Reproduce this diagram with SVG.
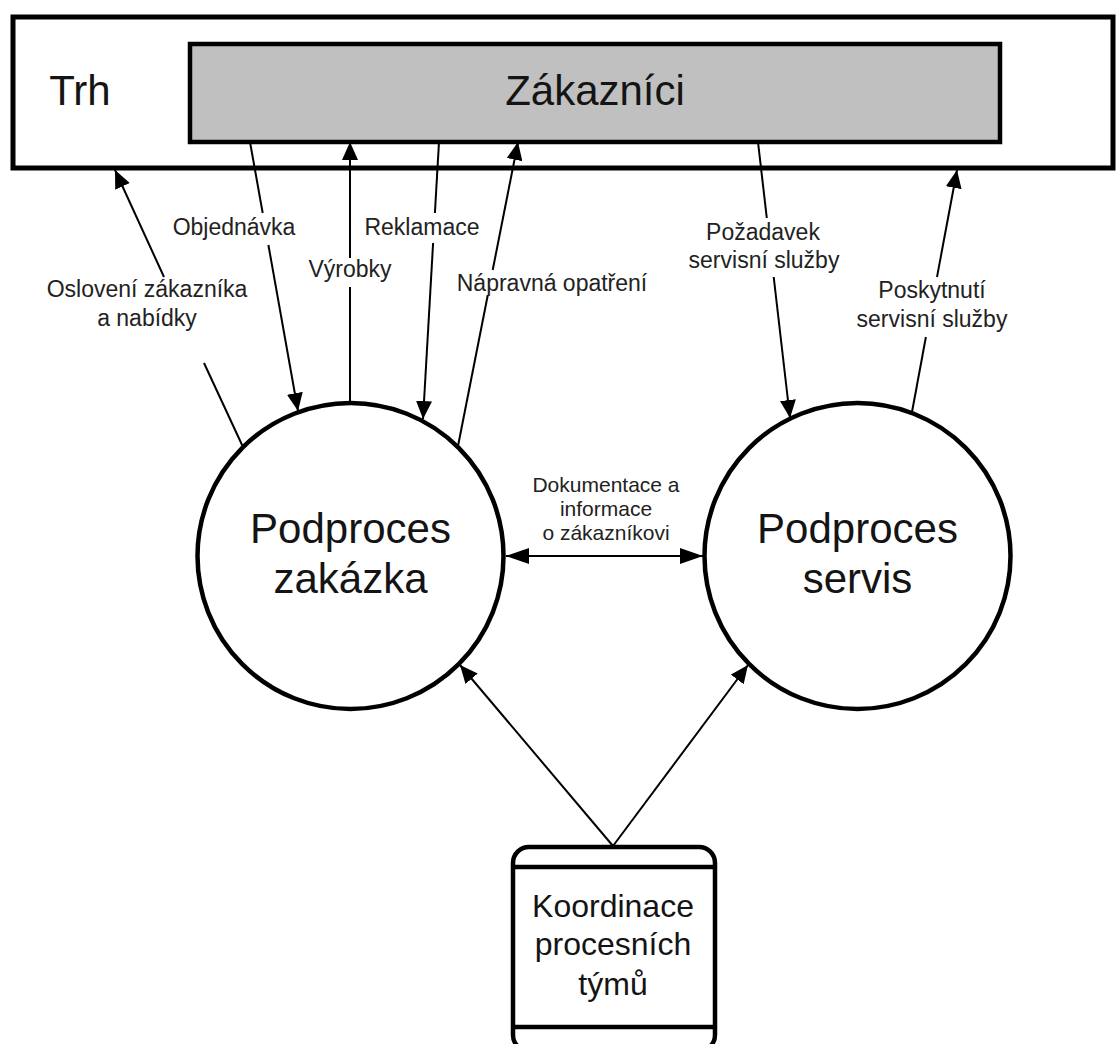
<svg xmlns="http://www.w3.org/2000/svg" width="1116" height="1044" viewBox="0 0 1116 1044">
  <style>
    .box { fill: #ffffff; stroke: #000; stroke-width: 5; }
    .grey { fill: #c0c0c0; stroke: #000; stroke-width: 4.5; }
    .proc { fill: #ffffff; stroke: #000; stroke-width: 4.5; }
    .store { fill: #ffffff; stroke: #000; stroke-width: 4.5; }
    .flow { fill: none; stroke: #000; stroke-width: 2; }
    .big { font-family: "Liberation Sans", Arial, sans-serif; font-size: 42px; fill: #141414; text-anchor: middle; }
    .mid { font-family: "Liberation Sans", Arial, sans-serif; font-size: 32px; fill: #141414; text-anchor: middle; }
    .lbl { font-family: "Liberation Sans", Arial, sans-serif; font-size: 23px; fill: #222; text-anchor: middle; }
    .small { font-family: "Liberation Sans", Arial, sans-serif; font-size: 21px; fill: #222; text-anchor: middle; }
  </style>
  <defs>
    <marker id="arrow" markerUnits="userSpaceOnUse" markerWidth="18" markerHeight="16" refX="18" refY="8" orient="auto-start-reverse">
      <path d="M0,0 L18,8 L0,16 z" fill="#000"/>
    </marker>
    <marker id="arrowBig" markerUnits="userSpaceOnUse" markerWidth="23" markerHeight="16" refX="23" refY="8" orient="auto-start-reverse">
      <path d="M0,0 L23,8 L0,16 z" fill="#000"/>
    </marker>
  </defs>

  <rect width="1116" height="1044" fill="#ffffff"/>

  <!-- Market frame with the customer block inside -->
  <g id="trh">
    <rect class="box" x="13" y="17" width="1100" height="151"/>
    <text class="big" x="80" y="105">Trh</text>
  </g>
  <g id="zakaznici">
    <rect class="grey" x="190" y="44" width="810" height="98"/>
    <text class="big" x="595" y="105">Zákazníci</text>
  </g>

  <!-- Process circles -->
  <g id="podproces-zakazka">
    <circle class="proc" cx="350.5" cy="556" r="153"/>
    <text class="big" x="350.5" y="543">Podproces</text>
    <text class="big" x="350.5" y="593">zakázka</text>
  </g>
  <g id="podproces-servis">
    <circle class="proc" cx="857.5" cy="556" r="153"/>
    <text class="big" x="857.5" y="543">Podproces</text>
    <text class="big" x="857.5" y="593">servis</text>
  </g>

  <!-- Coordination store -->
  <g id="koordinace">
    <rect class="store" x="513" y="847" width="202" height="204" rx="16"/>
    <line class="store" x1="513" y1="867" x2="715" y2="867"/>
    <line class="store" x1="513" y1="1027" x2="715" y2="1027"/>
    <text class="mid" x="613" y="917">Koordinace</text>
    <text class="mid" x="613" y="955">procesních</text>
    <text class="mid" x="613" y="995">týmů</text>
  </g>

  <!-- Flows -->
  <g id="connectors">
    <!-- Oslovení zákazníka a nabídky -->
    <line class="flow" x1="243" y1="447" x2="204" y2="363"/>
    <line class="flow" x1="164" y1="277" x2="115" y2="170" marker-end="url(#arrow)"/>
    <!-- Objednávka -->
    <line class="flow" x1="250" y1="142" x2="262.7" y2="213"/>
    <line class="flow" x1="268.4" y1="245" x2="298" y2="411" marker-end="url(#arrow)"/>
    <!-- Výrobky -->
    <line class="flow" x1="350" y1="404" x2="350" y2="287"/>
    <line class="flow" x1="350" y1="258" x2="350" y2="142" marker-end="url(#arrow)"/>
    <!-- Reklamace -->
    <line class="flow" x1="439" y1="142" x2="434.9" y2="213"/>
    <line class="flow" x1="433.1" y1="243" x2="423" y2="419" marker-end="url(#arrow)"/>
    <!-- Nápravná opatření -->
    <line class="flow" x1="458" y1="446" x2="487.8" y2="295"/>
    <line class="flow" x1="492.7" y1="270" x2="518" y2="142" marker-end="url(#arrow)"/>
    <!-- Požadavek servisní služby -->
    <line class="flow" x1="758" y1="142" x2="766.8" y2="218"/>
    <line class="flow" x1="773.7" y1="277" x2="790" y2="418" marker-end="url(#arrow)"/>
    <!-- Poskytnutí servisní služby -->
    <line class="flow" x1="912" y1="412" x2="925.9" y2="337"/>
    <line class="flow" x1="937" y1="277" x2="957" y2="170" marker-end="url(#arrow)"/>
    <!-- Dokumentace a informace o zákazníkovi -->
    <line class="flow" x1="506" y1="556" x2="703" y2="556" marker-start="url(#arrowBig)" marker-end="url(#arrowBig)"/>
    <!-- Koordinace to both processes -->
    <line class="flow" x1="613" y1="846" x2="460" y2="665" marker-end="url(#arrow)"/>
    <line class="flow" x1="613" y1="846" x2="748" y2="665" marker-end="url(#arrow)"/>
  </g>

  <!-- Flow labels -->
  <g id="labels">
    <text class="lbl" x="147" y="297">Oslovení zákazníka</text>
    <text class="lbl" x="147" y="326">a nabídky</text>
    <text class="lbl" x="234" y="235">Objednávka</text>
    <text class="lbl" x="350" y="277">Výrobky</text>
    <text class="lbl" x="422" y="235">Reklamace</text>
    <text class="lbl" x="552" y="291">Nápravná opatření</text>
    <text class="lbl" x="763" y="240">Požadavek</text>
    <text class="lbl" x="764" y="268">servisní služby</text>
    <text class="lbl" x="932" y="298">Poskytnutí</text>
    <text class="lbl" x="932" y="327">servisní služby</text>
    <text class="small" x="606" y="492">Dokumentace a</text>
    <text class="small" x="606" y="516">informace</text>
    <text class="small" x="606" y="540">o zákazníkovi</text>
  </g>
</svg>
